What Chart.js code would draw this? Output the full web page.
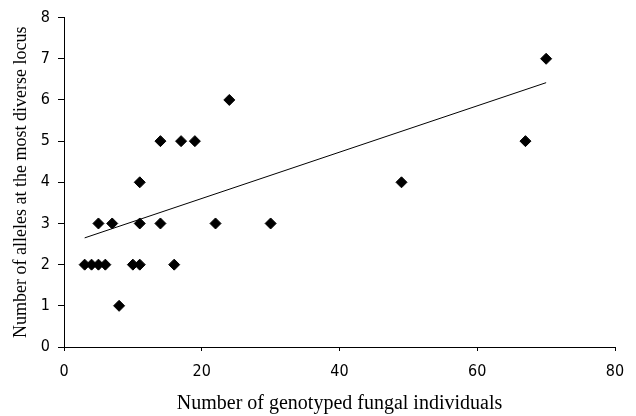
<!DOCTYPE html>
<html lang="en">
<head>
    <meta charset="UTF-8">
    <title>Alleles vs genotyped individuals</title>
    <style>
        html, body { margin: 0; padding: 0; background: #fff; }
        #wrap { width: 636px; height: 416px; }
    </style>
    <script src="https://cdn.jsdelivr.net/npm/chart.js"></script>
</head>
<body>
    <div id="wrap"><canvas id="myChart" width="636" height="416"></canvas></div>
    <script>
        var individuals = [14, 17, 19, 11, 5, 7, 11, 14, 22, 30, 3, 4, 5, 6, 10, 11, 16, 8, 70, 67, 49, 24];
        var alleles     = [5, 5, 5, 4, 3, 3, 3, 3, 3, 3, 2, 2, 2, 2, 2, 2, 2, 1, 7, 5, 4, 6];
        var trendX = [3, 70];
        var trendY = [2.65, 6.42];
        var xTicks = [0, 20, 40, 60, 80];
        var yTicks = [0, 1, 2, 3, 4, 5, 6, 7, 8];

        var points = [];
        for (var i = 0; i < individuals.length; i++) {
            points.push({ x: individuals[i], y: alleles[i] });
        }
        var trend = [];
        for (var j = 0; j < trendX.length; j++) {
            trend.push({ x: trendX[j], y: trendY[j] });
        }

        var tickFont = { family: '"Liberation Sans Narrow", "DejaVu Sans Condensed", "Liberation Sans", sans-serif', size: 16 };
        var titleFont = { family: '"Liberation Serif", "Times New Roman", serif' };

        var ctx = document.getElementById('myChart').getContext('2d');
        var myChart = new Chart(ctx, {
            type: 'scatter',
            data: {
                datasets: [
                    {
                        data: points,
                        pointStyle: 'rectRot',
                        pointRadius: 5.5,
                        pointHoverRadius: 5.5,
                        backgroundColor: '#000',
                        borderColor: '#000',
                        borderWidth: 1,
                        order: 1
                    },
                    {
                        type: 'line',
                        data: trend,
                        borderColor: '#000',
                        borderWidth: 1,
                        pointRadius: 0,
                        fill: false,
                        order: 2
                    }
                ]
            },
            options: {
                responsive: false,
                animation: false,
                layout: { padding: { top: 14, right: 21, left: 0, bottom: 0 } },
                plugins: { legend: { display: false }, tooltip: { enabled: false } },
                scales: {
                    x: {
                        type: 'linear',
                        min: 0,
                        max: 80,
                        afterBuildTicks: function (s) { s.ticks = xTicks.map(function (v) { return { value: v }; }); },
                        afterFit: function (s) { s.height = 69; },
                        border: { display: true, color: '#000', width: 1 },
                        grid: { drawOnChartArea: false, drawTicks: true, tickLength: 4, color: '#000' },
                        ticks: { color: '#000', font: tickFont, padding: 11, maxRotation: 0 },
                        title: {
                            display: true,
                            text: 'Number of genotyped fungal individuals',
                            color: '#000',
                            font: Object.assign({ size: 20 }, titleFont),
                            padding: { top: 0, bottom: 0 }
                        }
                    },
                    y: {
                        type: 'linear',
                        min: 0,
                        max: 8,
                        afterBuildTicks: function (s) { s.ticks = yTicks.map(function (v) { return { value: v }; }); },
                        afterFit: function (s) { s.width = 64; },
                        border: { display: true, color: '#000', width: 1 },
                        grid: { drawOnChartArea: false, drawTicks: true, tickLength: 6, color: '#000' },
                        ticks: { color: '#000', font: tickFont, padding: 8 },
                        title: {
                            display: true,
                            text: 'Number of alleles at the most diverse locus',
                            color: '#000',
                            font: Object.assign({ size: 18 }, titleFont),
                            padding: { top: 10, bottom: 0 }
                        }
                    }
                }
            }
        });
    </script>
</body>
</html>
